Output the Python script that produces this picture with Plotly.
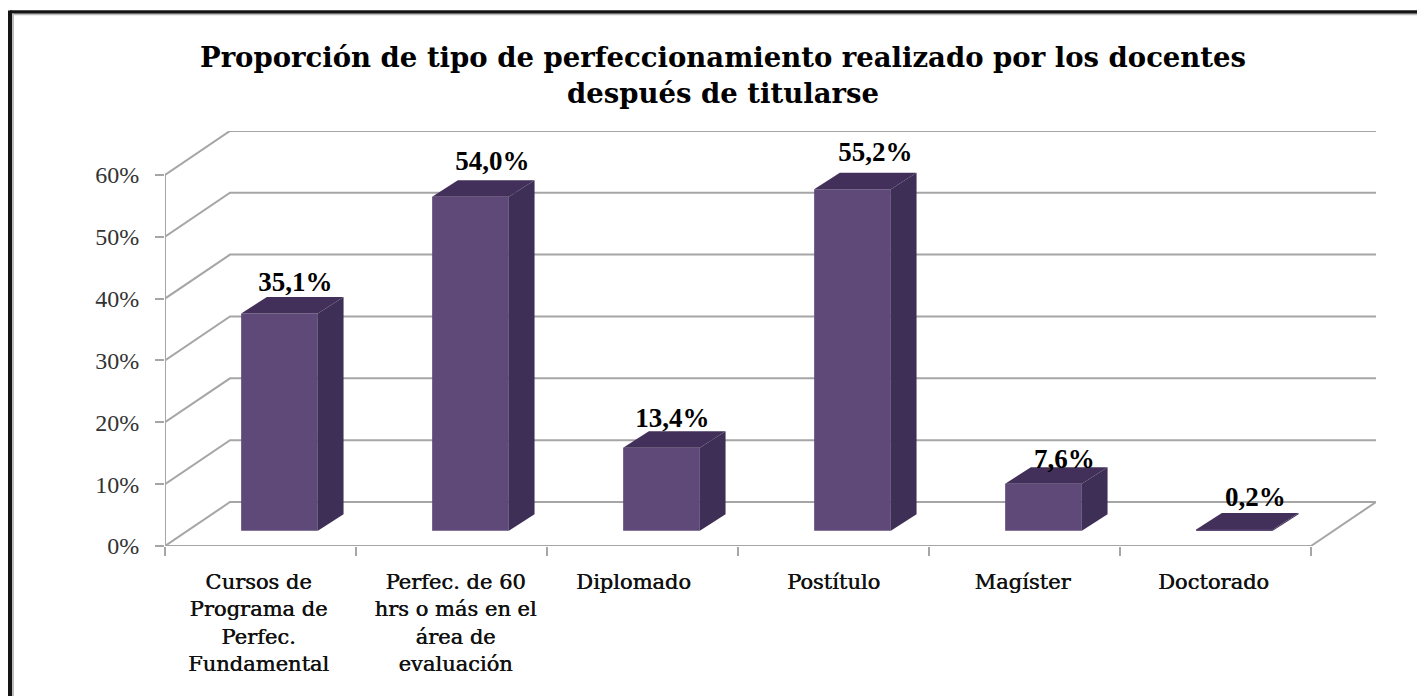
import plotly.graph_objects as go

categories = ["Cursos de<br>Programa de<br>Perfec.<br>Fundamental",
              "Perfec. de 60<br>hrs o más en el<br>área de<br>evaluación",
              "Diplomado", "Postítulo", "Magíster", "Doctorado"]
values = [35.1, 54.0, 13.4, 55.2, 7.6, 0.2]
value_labels = ["35,1%", "54,0%", "13,4%", "55,2%", "7,6%", "0,2%"]
y_ticks = [0, 10, 20, 30, 40, 50, 60]
y_tick_labels = ["0%", "10%", "20%", "30%", "40%", "50%", "60%"]
title_text = ("Proporción de tipo de perfeccionamiento realizado por los docentes<br>"
              "después de titularse")

# Layout constants: one category = 191 px, one percent = 6.19 px
PX_X, PX_Y = 191.0, 6.19
L, R, B, T = 165, 1376, 546, 130.7
WALL_DX, WALL_DY = 65 / PX_X, 44 / PX_Y
BAR_W = 76.7 / PX_X
BAR_OFF = 19 / PX_X
BAR_BASE = 15.3 / PX_Y
BAR_DX, BAR_DY = 25.7 / PX_X, 16.5 / PX_Y
XMAX = (R - L) / PX_X
YMAX = (B - T) / PX_Y
N = len(values)
GRID = "#a6a6a6"
SERIF = "Liberation Serif"
WIDE_SERIF = "DejaVu Serif"
FRONT, TOP, SIDE = "#5e4979", "#43305a", "#3e2f56"
# small per-label placement nudges in px (labels were hand-placed in the original)
LABEL_DX = [3, 9, -2, 10, 8, 8]
LABEL_DY = [-1, 3, -2, 5, -8, 0]
CATEGORY_DX = [-2, 4, -9, 0, -2, -2]

fig = go.Figure()


def line(xs, ys, color=GRID, width=2):
    fig.add_trace(go.Scatter(x=xs, y=ys, mode="lines", line=dict(color=color, width=width),
                             hoverinfo="skip", showlegend=False, cliponaxis=False))


# Walls and gridlines (main axes, beneath the bars)
for v in y_ticks:
    line([0, WALL_DX, XMAX], [v, v + WALL_DY, v + WALL_DY])
line([0, 0], [0, y_ticks[-1]])
line([0, N, N + WALL_DX], [0, 0, WALL_DY])

# Bars: front face, on overlay axes with the same scales
centers = [i + 0.5 + BAR_OFF for i in range(N)]
fig.add_trace(go.Bar(x=centers, y=values, base=[BAR_BASE] * N, width=BAR_W,
                     marker=dict(color=FRONT, line=dict(width=0)),
                     hoverinfo="skip", showlegend=False, xaxis="x2", yaxis="y2"))

# Bars: top and side faces
for c, v in zip(centers, values):
    x0, x1 = c - BAR_W / 2, c + BAR_W / 2
    y0, y1 = BAR_BASE, BAR_BASE + v
    fig.add_trace(go.Scatter(x=[x0, x1, x1 + BAR_DX, x0 + BAR_DX, x0],
                             y=[y1, y1, y1 + BAR_DY, y1 + BAR_DY, y1],
                             fill="toself", fillcolor=TOP, mode="none",
                             hoverinfo="skip", showlegend=False, xaxis="x2", yaxis="y2"))
    fig.add_trace(go.Scatter(x=[x1, x1 + BAR_DX, x1 + BAR_DX, x1, x1],
                             y=[y0, y0 + BAR_DY, y1 + BAR_DY, y1, y0],
                             fill="toself", fillcolor=SIDE, mode="none",
                             hoverinfo="skip", showlegend=False, xaxis="x2", yaxis="y2"))

# Value labels
fig.add_trace(go.Scatter(x=[c + BAR_DX / 2 + d / PX_X for c, d in zip(centers, LABEL_DX)],
                         y=[BAR_BASE + BAR_DY + v + d / PX_Y for v, d in zip(values, LABEL_DY)],
                         text=["<b>" + t + "</b>" for t in value_labels],
                         mode="text", textposition="top center",
                         textfont=dict(family=SERIF, size=27, color="#000000"),
                         hoverinfo="skip", showlegend=False, cliponaxis=False,
                         xaxis="x2", yaxis="y2"))

H = B - T
W = R - L
fig.update_layout(
    width=1417, height=696, autosize=False,
    paper_bgcolor="#ffffff", plot_bgcolor="rgba(0,0,0,0)",
    margin=dict(l=L, r=1417 - R, t=T, b=696 - B, pad=0),
    barmode="overlay", showlegend=False,
    title=dict(text="<b>" + title_text + "</b>", x=723 / 1417, xanchor="center",
               y=1 - 67 / 696, yanchor="top",
               font=dict(family=WIDE_SERIF, size=27.5, color="#000000")),
    xaxis=dict(range=[0, XMAX], showgrid=False, zeroline=False, showline=False,
               tickvals=[i + 0.5 + d / PX_X for i, d in enumerate(CATEGORY_DX)],
               ticktext=categories,
               ticks="", ticklabelstandoff=21, tickangle=0,
               tickfont=dict(family=WIDE_SERIF, size=21, color="#111111",
                             shadow="0.5px 0 0 #111111"),
               minor=dict(tickvals=list(range(N + 1)), ticks="outside", ticklen=9,
                          tickcolor=GRID, tickwidth=2, showgrid=False)),
    yaxis=dict(range=[0, YMAX], showgrid=False, zeroline=False, showline=False,
               tickvals=y_ticks, ticktext=y_tick_labels, ticks="outside", ticklen=9,
               tickcolor=GRID, tickwidth=2, ticklabelstandoff=11,
               tickfont=dict(family=SERIF, size=24, color="#333333")),
    xaxis2=dict(range=[0, XMAX], overlaying="x", visible=False),
    yaxis2=dict(range=[0, YMAX], overlaying="y", visible=False),
    shapes=[
        dict(type="line", xref="paper", yref="paper", x0=-155 / W, x1=(1417 - L) / W,
             y0=(B - 11.5) / H, y1=(B - 11.5) / H, line=dict(color="#141414", width=3.5)),
        dict(type="line", xref="paper", yref="paper", x0=-155 / W, x1=-155 / W,
             y0=-150 / H, y1=(B - 10) / H, line=dict(color="#141414", width=4)),
        dict(type="line", xref="paper", yref="paper", x0=-152 / W, x1=-152 / W,
             y0=-150 / H, y1=(B - 13) / H, line=dict(color="#bdbdbd", width=2)),
        dict(type="line", xref="paper", yref="paper", x0=-152 / W, x1=(1417 - L) / W,
             y0=(B - 14) / H, y1=(B - 14) / H, line=dict(color="#bdbdbd", width=1.5)),
    ],
)
fig.write_html("out.html", config=dict(displayModeBar=False),
               post_script="document.body.style.margin='0';")
